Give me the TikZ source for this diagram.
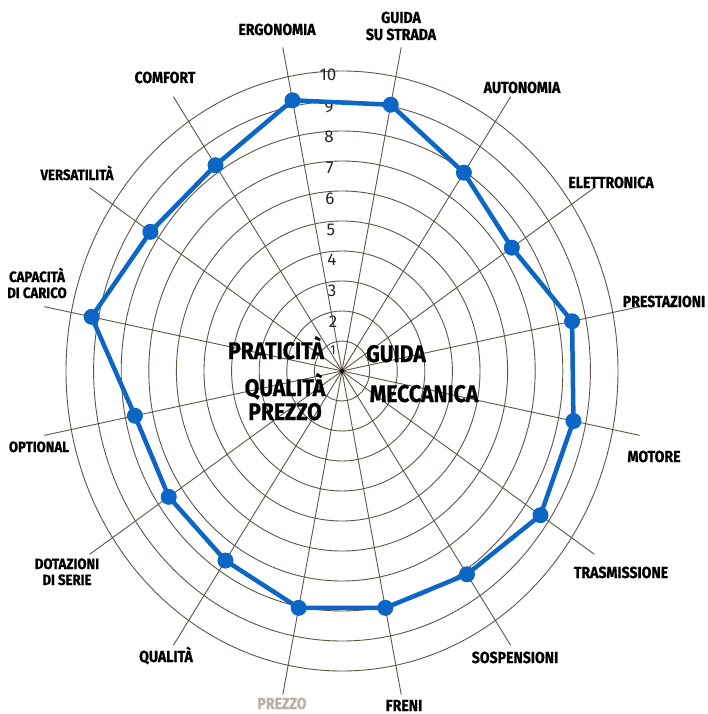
\documentclass[tikz,border=0pt]{standalone}
\usepackage{fontspec}
\setmainfont{Fira Sans}
\newfontfamily\labfont[FakeStretch=0.88, BoldFeatures={FakeBold=0.8}]{Fira Sans}
\definecolor{ringc}{HTML}{5E5647}
\definecolor{chartblue}{HTML}{0B66C6}
\definecolor{fadedtxt}{HTML}{B9B2A4}
\begin{document}
\begin{tikzpicture}[x=1pt,y=1pt,
  ring/.style={draw=ringc, line width=0.9pt},
  spoke/.style={draw=ringc, line width=0.9pt},
  axlabel/.style={font=\labfont\bfseries\fontsize{16}{17}\selectfont, align=center, inner sep=0pt, anchor=base},
  smalllabel/.style={axlabel, font=\labfont\bfseries\fontsize{15}{16}\selectfont},
  sector/.style={font=\labfont\bfseries\fontsize{24}{24}\selectfont, align=center, inner sep=0pt, anchor=base},
  num/.style={font=\fontsize{17}{17}\selectfont, inner sep=0pt, text=black!85},
  dot/.style={circle, fill=chartblue, minimum size=16pt, inner sep=0pt},
  series/.style={draw=chartblue, line width=4.5pt, line join=round}]
\useasboundingbox (0,0) rectangle (707,-714);
\fill[white] (0,0) rectangle (707,-714);
\coordinate (c) at (342,-371);
\begin{scope}[shift={(342,-371)}, x=27.6pt, y=30pt]
  \foreach \k in {1,...,10}
    \draw[ring] (0,0) ellipse [x radius={27.6pt*\k}, y radius={30pt*\k}];
  \foreach \a [count=\i] in {101.25,78.75,56.25,33.75,11.25,-11.25,-33.75,-56.25,-78.75,-101.25,-123.75,-146.25,-168.75,168.75,146.25,123.75}
  {
    \coordinate (s\i) at (\a:11);
    \draw[spoke] (c) -- (s\i);
  }
  \foreach \a/\v [count=\i] in {101.25/9.2, 78.75/9.05, 56.25/7.95, 33.75/7.4, 11.25/8.5, -11.25/8.55, -33.75/8.65, -56.25/8.15, -78.75/8.05, -101.25/8.05, -123.75/7.6, -146.25/7.55, -168.75/7.65, 168.75/9.25, 146.25/8.35, 123.75/8.25}
    \coordinate (q\i) at (\a:\v);
\end{scope}
\fill[black] (c) circle (2);
% scale numbers
\node[num] (n1) at (333,-350) {\fontsize{13}{13}\selectfont 1};
\node[num] (n2) at (333,-322) {2};
\node[num] (n3) at (332,-291) {3};
\node[num] (n4) at (332,-260) {4};
\node[num] (n5) at (331,-230) {5};
\node[num] (n6) at (330,-199) {6};
\node[num] (n7) at (330,-168) {7};
\node[num] (n8) at (329,-137) {8};
\node[num] (n9) at (329,-107) {9};
\node[num] (n10) at (328,-75) {10};
% data series
\draw[series] (q1) -- (q2) -- (q3) -- (q4) -- (q5) -- (q6) -- (q7) -- (q8) -- (q9) -- (q10) -- (q11) -- (q12) -- (q13) -- (q14) -- (q15) -- (q16) -- cycle;
\foreach \i in {1,...,16} \node[dot] (p\i) at (q\i) {};
% sector titles
\node[sector] (prat) at (276,-359) {PRATICITÀ};
\node[sector] (guida) at (396,-362) {GUIDA};
\node[sector] (qp) at (285,-420) {QUALITÀ\\PREZZO};
\node[sector] (mecc) at (424,-402) {MECCANICA};
% axis labels
\node[axlabel] (l1) at (277,-35) {ERGONOMIA};
\node[axlabel] (l2) at (401,-40) {GUIDA\\SU STRADA};
\node[axlabel] (l3) at (522,-93) {AUTONOMIA};
\node[axlabel] (l4) at (611,-188) {ELETTRONICA};
\node[axlabel] (l5) at (664,-307) {PRESTAZIONI};
\node[axlabel] (l6) at (654,-462) {MOTORE};
\node[axlabel] (l7) at (621,-578) {TRASMISSIONE};
\node[axlabel] (l8) at (515,-663) {SOSPENSIONI};
\node[axlabel] (l9) at (404,-711) {FRENI};
\node[axlabel, text=fadedtxt] (l10) at (282,-709) {PREZZO};
\node[axlabel] (l11) at (166,-662) {QUALITÀ};
\node[smalllabel] (l12) at (67,-585) {DOTAZIONI\\DI SERIE};
\node[smalllabel] (l13) at (39,-452) {OPTIONAL};
\node[smalllabel] (l14) at (37,-298) {CAPACITÀ\\DI CARICO};
\node[smalllabel] (l15) at (77,-180) {VERSATILITÀ};
\node[axlabel] (l16) at (165,-83) {COMFORT};
\end{tikzpicture}
\end{document}
